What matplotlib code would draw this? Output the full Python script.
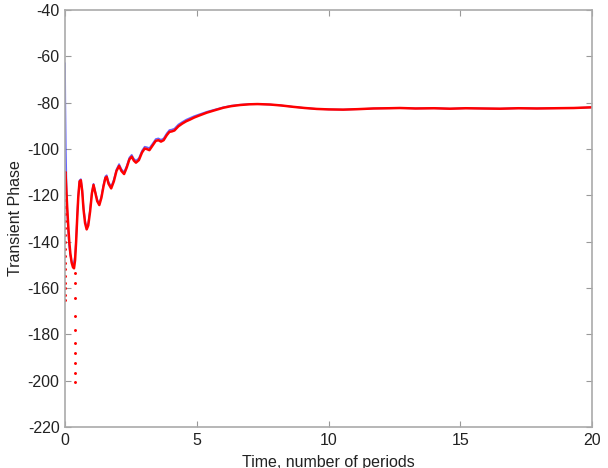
import matplotlib
matplotlib.use('Agg')
import matplotlib.pyplot as plt

plt.rcParams['font.family'] = ['Liberation Sans', 'DejaVu Sans']
plt.rcParams['axes.unicode_minus'] = False

# red (measured) curve
t_red = [0.02, 0.05, 0.08, 0.12, 0.16, 0.20, 0.25, 0.30, 0.34, 0.38, 0.42, 0.46,
         0.50, 0.55, 0.60, 0.65, 0.70, 0.76, 0.82, 0.88, 0.95, 1.02, 1.08, 1.15,
         1.22, 1.30, 1.38, 1.46, 1.53, 1.58, 1.65, 1.75, 1.85, 1.95, 2.05, 2.14,
         2.24, 2.34, 2.44, 2.53, 2.61, 2.69, 2.80, 2.92, 3.02, 3.10, 3.20, 3.32,
         3.44, 3.54, 3.64, 3.74, 3.86, 3.96, 4.05, 4.15, 4.30, 4.45, 4.60, 4.74,
         4.90, 5.10, 5.38, 5.70, 6.00, 6.30, 6.64, 7.00, 7.30, 7.78, 8.20, 8.66,
         9.10, 9.55, 10.0, 10.55, 11.1, 11.7, 12.3, 12.7, 13.3, 14.0, 14.6, 15.2,
         15.8, 16.5, 17.2, 17.9, 18.6, 19.3, 20.0]
v_red = [-111, -118, -125, -133, -140, -145, -149, -151, -151.5, -148, -140, -130,
         -121, -114, -113.5, -118, -126, -132, -134.7, -133, -127, -119, -115.5, -119,
         -122.5, -124.2, -121, -116, -112.5, -112, -115, -117, -114, -109.5, -107.3, -109.5,
         -110.8, -108, -104.5, -103.3, -105, -105.9, -104.8, -101.5, -99.8, -100, -100.5, -98.5,
         -96.5, -96.2, -96.8, -96.2, -94, -92.6, -92.4, -92, -90.2, -89, -88, -87.3,
         -86.4, -85.5, -84.3, -83.2, -82.2, -81.5, -81.0, -80.7, -80.6, -80.8, -81.2, -81.8,
         -82.3, -82.7, -82.9, -83.0, -82.8, -82.5, -82.4, -82.3, -82.5, -82.4, -82.6, -82.4,
         -82.5, -82.6, -82.4, -82.5, -82.4, -82.3, -82.0]

# red scattered samples near the start
t_dots1 = [0.0] * 20
v_dots1 = [-110, -113, -116, -119, -122, -125, -128, -131, -134, -137,
           -140, -143, -146, -149, -152, -155, -158, -160, -163, -165]
t_dots2 = [0.38] * 10
v_dots2 = [-153.5, -158, -164.2, -171.9, -178.1, -183.6, -188.2, -192.5, -196.5, -200.4]

# blue (model) curve
t_blue = [0.0, 0.01, 0.03, 0.06, 0.10, 0.15, 0.20, 0.26, 0.32, 0.38, 0.42, 0.46,
          0.50, 0.55, 0.60, 0.65, 0.70, 0.76, 0.82, 0.88, 0.95, 1.02, 1.08, 1.15,
          1.22, 1.30, 1.38, 1.46, 1.53, 1.58, 1.65, 1.75, 1.85, 1.95, 2.05, 2.14,
          2.24, 2.34, 2.44, 2.53, 2.61, 2.69, 2.80, 2.92, 3.02, 3.10, 3.20, 3.32,
          3.44, 3.54, 3.64, 3.74, 3.86, 3.96, 4.05, 4.15, 4.30, 4.45, 4.60, 4.74,
          4.90, 5.10, 5.38, 5.70, 6.00, 6.30, 6.64, 7.00, 7.30, 7.78, 8.20, 8.66,
          9.10, 9.55, 10.0, 10.55, 11.1, 11.7, 12.3, 12.7, 13.3, 14.0, 14.6, 15.2,
          15.8, 16.5, 17.2, 17.9, 18.6, 19.3, 20.0]
v_blue = [-63, -80, -100, -118, -132, -141, -146, -149, -150, -146, -139, -129,
          -120, -113.5, -113, -117.5, -125, -131, -133.8, -132, -126, -118.5, -115, -118.5,
          -121.8, -123.5, -120.3, -115.3, -111.8, -111.3, -114.2, -116.2, -113.2, -108.8, -106.5, -108.7,
          -110, -107.2, -103.7, -102.5, -104.2, -105, -104, -100.7, -99, -99.2, -99.6, -97.7,
          -95.7, -95.4, -96, -95.4, -93.2, -91.8, -91.6, -91.2, -89.4, -88.3, -87.3, -86.6,
          -85.8, -85, -83.9, -82.9, -82, -81.3, -80.9, -80.6, -80.6, -80.8, -81.2, -81.8,
          -82.3, -82.7, -82.9, -83.0, -82.8, -82.5, -82.4, -82.3, -82.5, -82.4, -82.6, -82.4,
          -82.5, -82.6, -82.4, -82.5, -82.4, -82.3, -82.0]

fig = plt.figure(figsize=(6.08, 4.68), dpi=100)
ax = fig.add_axes([0.107, 0.0876, 0.867, 0.891])

ax.plot(t_blue, v_blue, color='#3333ff', lw=1.2, alpha=0.75)
ax.plot(t_red, v_red, color='red', lw=1.8)
ax.plot(t_dots1, v_dots1, '.', color='red', ms=2.2)
ax.plot(t_dots2, v_dots2, '.', color='red', ms=2.2)

ax.set_xlim(0, 20)
ax.set_ylim(-220, -40)
ax.set_xticks([0, 5, 10, 15, 20])
ax.set_yticks(range(-220, -39, 20))
ax.tick_params(direction='in', length=4, top=True, right=True, labelsize=11.5,
               color='#999999', labelcolor='#222222', pad=4)
for s in ax.spines.values():
    s.set_color('#aaaaaa')
    s.set_linewidth(1.2)
ax.set_xlabel('Time, number of periods', fontsize=11.5, labelpad=5, color='#222222')
ax.set_ylabel('Transient Phase', fontsize=11.5, labelpad=3, color='#222222')

fig.savefig('out.png', dpi=100)
